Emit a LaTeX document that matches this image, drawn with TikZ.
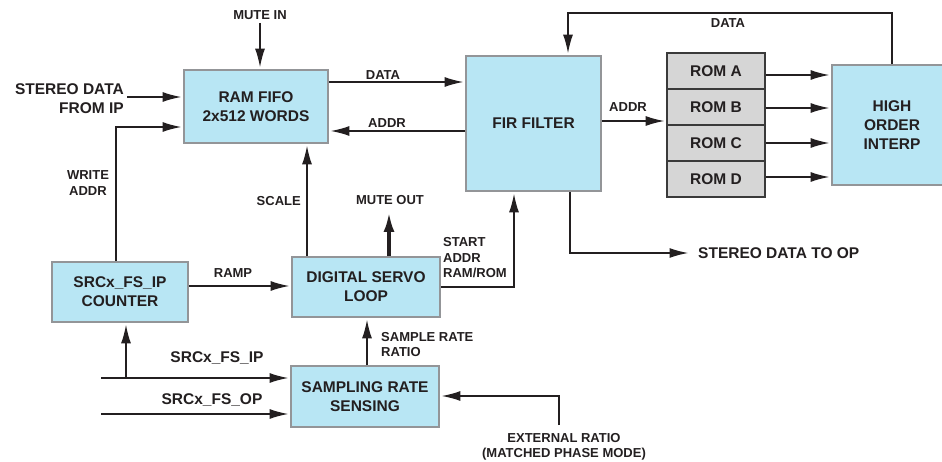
\documentclass[tikz,border=0pt]{standalone}
\usepackage{fontspec}
\setmainfont{Liberation Sans}
\usetikzlibrary{arrows.meta}
\definecolor{ink}{HTML}{231F20}
\definecolor{boxfill}{HTML}{B8E6F4}
\definecolor{boxline}{HTML}{939598}
\definecolor{romfill}{HTML}{D6D6D6}
\definecolor{romline}{HTML}{3A3A3A}
\tikzset{
  box/.style={draw=boxline, line width=1.8pt, fill=boxfill, inner sep=0pt, align=center,
    font=\fontsize{15.5}{19}\selectfont\bfseries, text=ink},
  rombox/.style={draw=romline, line width=1.6pt, fill=romfill, inner sep=0pt, align=center,
    minimum width=98pt, minimum height=36pt, font=\fontsize{15.5}{19}\selectfont\bfseries, text=ink},
  lbl/.style={font=\fontsize{13}{15.5}\selectfont\bfseries, text=ink, inner sep=0pt},
  biglbl/.style={font=\fontsize{15.5}{19}\selectfont\bfseries, text=ink, inner sep=0pt},
  wire/.style={draw=ink, line width=1.8pt},
  arr/.style={wire, shorten >=1.5pt, -{Latex[length=19pt,width=10pt]}},
  thickarr/.style={draw=ink, line width=3.6pt, shorten >=0pt, -{Latex[length=20pt,width=11pt]}},
}
\begin{document}
\begin{tikzpicture}[x=1pt,y=-1pt]
\useasboundingbox (0,0) rectangle (942,462);
\clip (0,0) rectangle (942,462);
\fill[white] (0,0) rectangle (942,462);

% blocks
\node[box, minimum width=144pt, minimum height=73pt] (RAM) at (256,106.5) {RAM FIFO\\2x512 WORDS};
\node[box, minimum width=135pt, minimum height=135pt] (FIR) at (533.5,123.5) {FIR FILTER};
\node[rombox] (romA) at (716,71) {ROM A};
\node[rombox] (romB) at (716,107) {ROM B};
\node[rombox] (romC) at (716,143) {ROM C};
\node[rombox] (romD) at (716,179) {ROM D};
\node[box, minimum width=120pt, minimum height=120pt] (HOI) at (892,125) {HIGH\\ORDER\\INTERP};
\node[box, minimum width=148pt, minimum height=60pt] (DSL) at (366,287) {DIGITAL SERVO\\LOOP};
\node[box, minimum width=136pt, minimum height=60pt] (CNT) at (120,292) {SRCx\_FS\_IP\\COUNTER};
\node[box, minimum width=148pt, minimum height=61pt] (SRS) at (365,396.5) {SAMPLING RATE\\SENSING};

% labels
\node[lbl] (lmutein) at (260,15) {MUTE IN};
\node[biglbl, align=right, anchor=east] (lsdin) at (124,98.5) {STEREO DATA\\FROM IP};
\node[lbl] (ldata1) at (383,75) {DATA};
\node[lbl] (laddr1) at (387,123) {ADDR};
\node[lbl, align=center] (lwaddr) at (88,183) {WRITE\\ADDR};
\node[lbl, anchor=east] (lscale) at (301,201) {SCALE};
\node[lbl] (lmuteout) at (390,200) {MUTE OUT};
\node[lbl] (ldata2) at (728,23) {DATA};
\node[lbl] (laddr2) at (628,107) {ADDR};
\node[lbl] (lramp) at (233,273) {RAMP};
\node[lbl, align=left, anchor=west] (lstart) at (443,258) {START\\ADDR\\RAM/ROM};
\node[lbl, align=left, anchor=west] (lsrr) at (381,344.5) {SAMPLE RATE\\RATIO};
\node[biglbl] (lfsip) at (217,358) {SRCx\_FS\_IP};
\node[biglbl] (lfsop) at (212,400) {SRCx\_FS\_OP};
\node[lbl, align=center] (lext) at (564,447) {EXTERNAL RATIO\\(MATCHED PHASE MODE)};
\node[biglbl, anchor=west] (lsdout) at (698,253) {STEREO DATA TO OP};

% free ends
\coordinate (mutein) at (260,23);
\coordinate (sdin) at (127,97);
\coordinate (muteout) at (389,212);
\coordinate (fsip) at (101,378);
\coordinate (fsop) at (101,414);
\coordinate (extr) at (559,425);
\coordinate (sdout) at (690,253);

% connectors
\draw[arr] (mutein) -- (mutein |- RAM.north);
\draw[arr] (sdin) -- (sdin -| RAM.west);
\draw[arr] (RAM.east |- 0,82) -- (FIR.west |- 0,82);
\draw[arr] (FIR.west |- 0,131) -- (RAM.east |- 0,131);
\draw[arr] (CNT.north -| 116,0) -- (116,127) -- (RAM.west |- 0,127);
\draw[arr] (DSL.north -| 307,0) -- (RAM.south -| 307,0);
\draw[thickarr] (DSL.north -| muteout) -- (muteout);
\draw[arr] (CNT.east |- 0,286) -- (DSL.west |- 0,286);
\draw[arr] (DSL.east |- 0,287) -- (514,287) -- (FIR.south -| 514,0);
\draw[arr] (FIR.south -| 570,0) -- (570,253) -- (sdout);
\draw[arr] (HOI.north -| 892,0) -- (892,13) -- (568,13) -- (FIR.north -| 568,0);
\draw[arr] (FIR.east |- 0,121) -- (romB.west |- 0,121);
\draw[arr] (romA.east |- 0,75) -- (HOI.west |- 0,75);
\draw[arr] (romB.east |- 0,108) -- (HOI.west |- 0,108);
\draw[arr] (romC.east |- 0,143) -- (HOI.west |- 0,143);
\draw[arr] (romD.east |- 0,177) -- (HOI.west |- 0,177);
\draw[arr] (SRS.north -| 367,0) -- (DSL.south -| 367,0);
\draw[arr] (fsip) -- (fsip -| SRS.west);
\draw[arr] (126,378) -- (CNT.south -| 126,0);
\draw[arr] (fsop) -- (fsop -| SRS.west);
\draw[arr] (extr) -- (559,396) -- (SRS.east |- 0,396);
\end{tikzpicture}
\end{document}
